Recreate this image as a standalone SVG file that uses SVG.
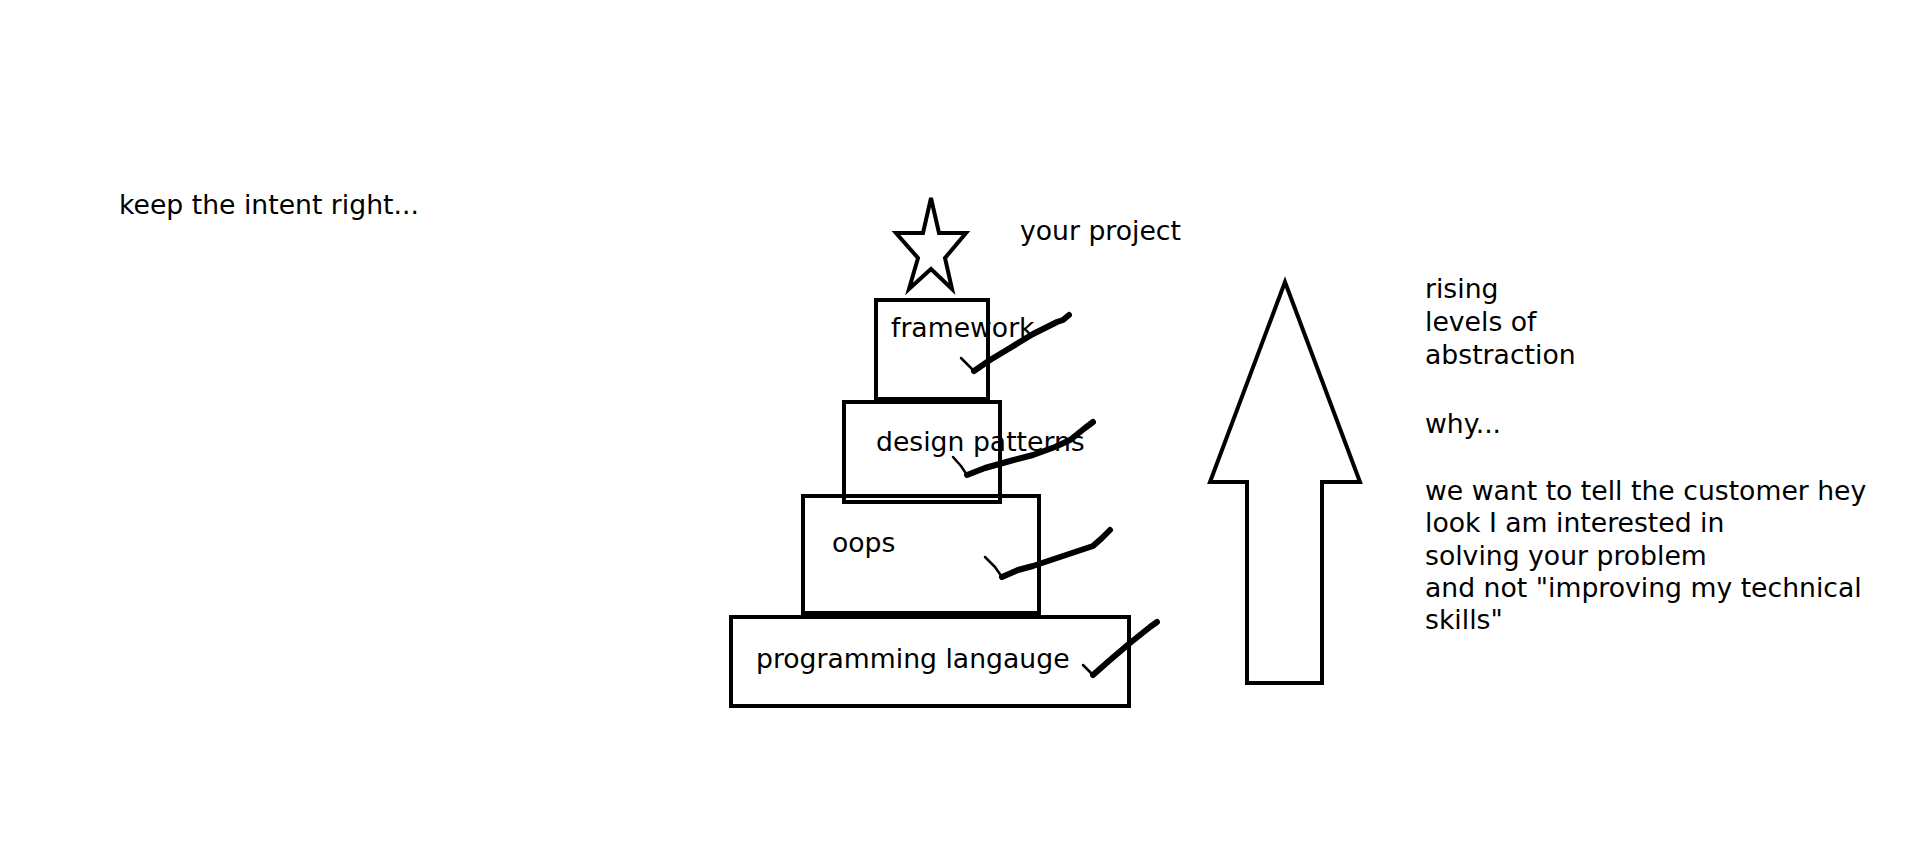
<svg xmlns="http://www.w3.org/2000/svg" width="1914" height="847" viewBox="0 0 1914 847">
<style>
  .t { font-family: "DejaVu Sans", Verdana, sans-serif; font-size: 26.67px; fill: #000; }
  .s { fill: #fff; stroke: #000; stroke-width: 4; stroke-linejoin: miter; }
  .ck1 { fill: none; stroke: #000; stroke-width: 2.5; stroke-linecap: round; stroke-linejoin: round; }
  .ck2 { fill: none; stroke: #000; stroke-width: 6; stroke-linecap: round; stroke-linejoin: round; }
</style>
<rect width="1914" height="847" fill="#fff"/>

<g id="title">
  <text class="t" x="119" y="214">keep the intent right...</text>
</g>

<g id="star">
  <polygon class="s" points="931,198 939,233 966,233 945,258 952,289 931,269 909,289 918,258 896,233 923,233"/>
  <text class="t" x="1020" y="240">your project</text>
</g>

<g id="programming-language">
  <rect class="s" x="731" y="617" width="398" height="89"/>
  <text class="t" x="756" y="668">programming langauge</text>
</g>

<g id="oops">
  <rect class="s" x="803" y="496" width="236" height="117"/>
  <text class="t" x="832" y="552">oops</text>
</g>

<g id="design-patterns">
  <rect class="s" x="844" y="402" width="156" height="100" style="fill:none"/>
  <text class="t" x="876" y="451">design patterns</text>
</g>

<g id="framework">
  <rect class="s" x="876" y="300" width="112" height="99"/>
  <text class="t" x="891" y="337">framework</text>
</g>

<g id="checks">
  <path class="ck1" d="M961,358 L974,371"/>
  <path class="ck2" d="M974,371 L990,360 L1010,348 L1033,334 L1045,328 L1057,322 L1063,320 L1069,315"/>
  <path class="ck1" d="M953,457 L961,466 L967,475"/>
  <path class="ck2" d="M967,475 L985,468 L1010,461 L1033,455 L1055,447 L1070,440 L1085,428 L1093,422"/>
  <path class="ck1" d="M985,557 L995,567 L1002,577"/>
  <path class="ck2" d="M1002,577 L1018,570 L1033,566 L1060,557 L1093,546 L1102,538 L1110,530"/>
  <path class="ck1" d="M1083,665 L1093,675"/>
  <path class="ck2" d="M1093,675 L1110,660 L1130,643 L1150,627 L1157,622"/>
</g>

<g id="arrow">
  <polygon class="s" points="1285,282 1360,482 1322,482 1322,683 1247,683 1247,482 1210,482"/>
</g>

<g id="notes">
  <text class="t" x="1425" y="298">rising</text>
  <text class="t" x="1425" y="331">levels of</text>
  <text class="t" x="1425" y="364">abstraction</text>
  <text class="t" x="1425" y="433">why...</text>
  <text class="t" x="1425" y="500">we want to tell the customer hey</text>
  <text class="t" x="1425" y="532">look I am interested in</text>
  <text class="t" x="1425" y="565">solving your problem</text>
  <text class="t" x="1425" y="597">and not "improving my technical</text>
  <text class="t" x="1425" y="629">skills"</text>
</g>
</svg>
